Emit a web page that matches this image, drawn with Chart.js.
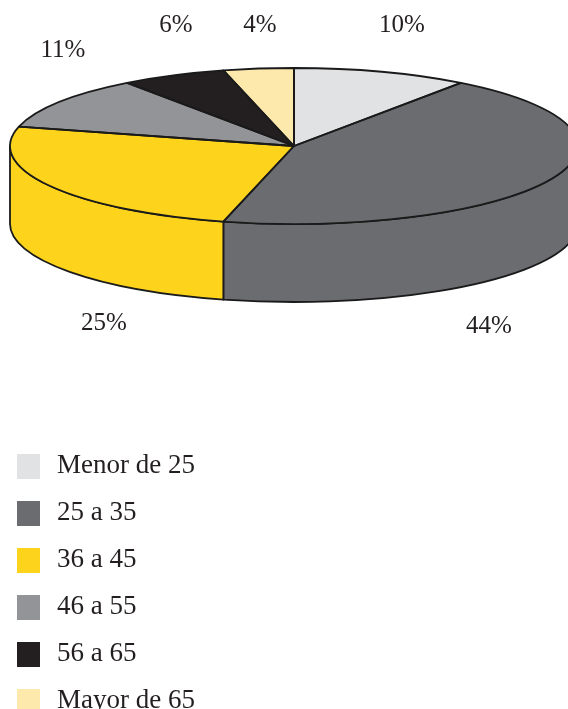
<!DOCTYPE html>
<html>
<head>
<meta charset="utf-8">
<script src="https://cdn.jsdelivr.net/npm/chart.js@4.4.0/dist/chart.umd.min.js"></script>
<style>
  html, body { margin: 0; padding: 0; background: #fff; }
  body {
    width: 568px; height: 709px; overflow: hidden; position: relative;
    font-family: "Liberation Serif", "DejaVu Serif", serif; color: #231f20;
  }
  #pie { position: absolute; left: 0; top: 0; }
  #legend { position: absolute; left: 17px; top: 454px; z-index: 1; }
  .item { height: 25px; margin-bottom: 22px; display: flex; align-items: center; }
  .box { width: 23px; height: 25px; flex: none; }
  .txt { margin-left: 17px; font-size: 27px; line-height: 25px; position: relative; top: -2px; white-space: nowrap; }
</style>
</head>
<body>
<canvas id="pie" width="600" height="600"></canvas>
<div id="legend"></div>
<script>
const categories = ['Menor de 25', '25 a 35', '36 a 45', '46 a 55', '56 a 65', 'Mayor de 65'];
const shares = [10, 44, 25, 11, 6, 4];
const sliceColors = ['#e1e2e4', '#6b6c70', '#fdd31c', '#939497', '#231f20', '#fee9ad'];

// where each percentage text sits (centre x, baseline y)
const labelSpots = [[402, 32], [489, 333], [104, 330], [63, 57], [176, 32], [260, 32]];

// top face of the tilted pie and its thickness
const pie3d = { cx: 294, cy: 146, rx: 284, ry: 78, depth: 78 };

const tiltPlugin = {
    id: 'tilt',
    beforeDatasetsDraw(chart) {
        const ctx = chart.ctx;
        const arcs = chart.getDatasetMeta(0).data;
        const { cx, cy, rx, ry, depth } = pie3d;

        // side walls, only the front half (0..PI) is visible
        ctx.save();
        ctx.lineWidth = 1.8;
        ctx.strokeStyle = '#1a1a1a';
        ctx.lineJoin = 'round';
        arcs.forEach((arc, i) => {
            const a1 = Math.max(arc.startAngle, 0);
            const a2 = Math.min(arc.endAngle, Math.PI);
            if (a2 <= a1) return;
            ctx.beginPath();
            ctx.ellipse(cx, cy, rx, ry, 0, a1, a2);
            ctx.lineTo(cx + rx * Math.cos(a2), cy + depth + ry * Math.sin(a2));
            ctx.ellipse(cx, cy + depth, rx, ry, 0, a2, a1, true);
            ctx.closePath();
            ctx.fillStyle = sliceColors[i];
            ctx.fill();
            ctx.stroke();
        });
        ctx.restore();

        // squash the library's circle into the top ellipse
        const { x, y, outerRadius } = arcs[0];
        ctx.save();
        ctx.translate(cx, cy);
        ctx.scale(rx / outerRadius, ry / outerRadius);
        ctx.translate(-x, -y);
    },
    afterDatasetsDraw(chart) {
        const ctx = chart.ctx;
        ctx.restore();
        const arcs = chart.getDatasetMeta(0).data;
        const { cx, cy, rx, ry } = pie3d;

        // outlines of the top face, drawn unscaled so the line stays even
        ctx.save();
        ctx.lineWidth = 1.8;
        ctx.strokeStyle = '#1a1a1a';
        ctx.lineJoin = 'round';
        arcs.forEach(arc => {
            ctx.beginPath();
            ctx.moveTo(cx, cy);
            ctx.ellipse(cx, cy, rx, ry, 0, arc.startAngle, arc.endAngle);
            ctx.closePath();
            ctx.stroke();
        });

        ctx.font = '25px "Liberation Serif", "DejaVu Serif", serif';
        ctx.fillStyle = '#231f20';
        ctx.textAlign = 'center';
        ctx.textBaseline = 'alphabetic';
        shares.forEach((v, i) => {
            ctx.fillText(v + '%', labelSpots[i][0], labelSpots[i][1]);
        });
        ctx.restore();
    }
};

new Chart(document.getElementById('pie'), {
    type: 'pie',
    data: {
        labels: categories,
        datasets: [{
            data: shares,
            backgroundColor: sliceColors,
            borderWidth: 0,
            hoverOffset: 0,
            offset: 0,
            clip: false
        }]
    },
    options: {
        responsive: false,
        animation: false,
        events: [],
        layout: { padding: 0 },
        plugins: {
            legend: { display: false },
            tooltip: { enabled: false }
        }
    },
    plugins: [tiltPlugin]
});

// legend below the pie
const legend = document.getElementById('legend');
legend.innerHTML = categories.map((name, i) => `
    <div class="item">
        <div class="box" style="background:${sliceColors[i]}"></div>
        <span class="txt">${name}</span>
    </div>
`).join('');
</script>
</body>
</html>
